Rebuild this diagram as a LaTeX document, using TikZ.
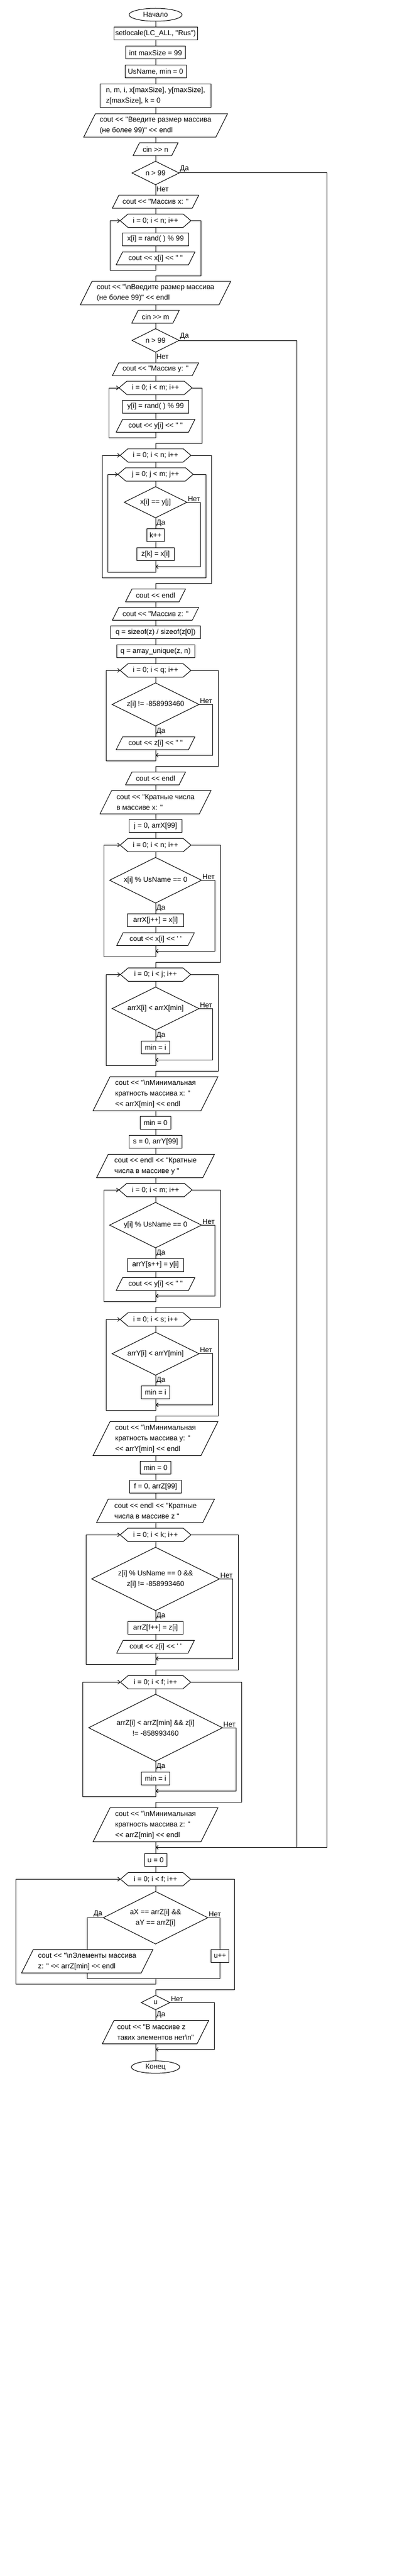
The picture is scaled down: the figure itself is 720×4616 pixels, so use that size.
\documentclass[tikz,border=0pt]{standalone}
\usepackage{fontspec}
\newfontfamily\fcfont{Liberation Sans}
\usetikzlibrary{shapes.geometric,arrows.meta}
\tikzset{
  every node/.style={font=\fcfont\fontsize{12.8}{19}\selectfont},
  ln/.style={line width=1pt},
  >={Straight Barb[length=4pt,width=7pt]},
  box/.style={draw, ln, rectangle, inner sep=2pt, outer sep=0pt, minimum height=23},
  term/.style={draw, ln, ellipse, inner sep=0pt, outer sep=0pt},
  ptext/.style={rectangle, inner sep=0pt, outer sep=0pt, align=left},
  dtext/.style={rectangle, inner sep=0pt, outer sep=0pt, align=center},
  htext/.style={rectangle, inner sep=0pt, outer sep=0pt, minimum height=24},
  lbl/.style={inner sep=1.5pt},
}
% parallelogram: name, cx, cy, width, height, text
\newcommand\para[6]{%
  \node[ptext, minimum width=#4, minimum height=#5] (#1) at (#2,#3) {#6};
  \draw[ln] ([xshift=#5/4]#1.north west) -- ([xshift=#5/4]#1.north east) -- ([xshift=-#5/4]#1.south east) -- ([xshift=-#5/4]#1.south west) -- cycle;}
% decision: name, cx, cy, width, height, text
\newcommand\dec[6]{%
  \node[dtext, minimum width=#4, minimum height=#5] (#1) at (#2,#3) {#6};
  \draw[ln] (#1.north) -- (#1.east) -- (#1.south) -- (#1.west) -- cycle;}
% loop hexagon: name, cy, inner width, point depth, text
\newcommand\hexa[5]{%
  \node[htext, minimum width=#3] (#1) at (279,#2) {#5};
  \draw[ln] (#1.north west) -- (#1.north east) -- ([xshift=#4]#1.east) -- (#1.south east) -- (#1.south west) -- ([xshift=-#4]#1.west) -- cycle;
  \coordinate (#1L) at ([xshift=-#4]#1.west);
  \coordinate (#1R) at ([xshift=#4]#1.east);}
\begin{document}
\begin{tikzpicture}[x=1pt,y=-1pt]
\useasboundingbox (0,0) rectangle (720,4616);

% ---------- nodes ----------
\node[term, minimum width=95, minimum height=23] (start) at (279,26.5) {Начало};
\node[box, minimum width=150] (set) at (279,60.5) {setlocale(LC\_ALL, "Rus")};
\node[box, minimum width=107] (msz) at (279,94.5) {int maxSize = 99};
\node[box, minimum width=110] (usn) at (279,128.5) {UsName, min = 0};
\node[box, minimum width=199, minimum height=42, align=left] (vars) at (279,172) {n, m, i, x[maxSize], y[maxSize],\\z[maxSize], k = 0};
\para{in1}{279}{225}{237}{42}{cout << "Введите размер массива\\(не более 99)" << endl}
\para{cinn}{279}{267.5}{69.2}{23}{cin >> n}
\dec{d1}{279}{310}{84.4}{42}{n > 99}
\para{mx}{279}{361.5}{143.3}{23}{cout << "Массив x: "}
\hexa{h1}{395.5}{99}{14}{i = 0; i < n; i++}
\node[box, minimum width=119.5] (rx) at (279,428.5) {x[i] = rand( ) \% 99};
\para{ox}{279}{463}{129.7}{23}{cout << x[i] << " "}
\para{in2}{279}{525}{248.7}{42}{cout << "\textbackslash nВведите размер массива\\(не более 99)" << endl}
\para{cinm}{279}{567.5}{73.7}{23}{cin >> m}
\dec{d2}{279}{610}{84.4}{42}{n > 99}
\para{my}{279}{661.5}{143.3}{23}{cout << "Массив y: "}
\hexa{h2}{695}{103}{14}{i = 0; i < m; i++}
\node[box, minimum width=119.5] (ry) at (279,728.5) {y[i] = rand( ) \% 99};
\para{oy}{279}{763}{129.7}{23}{cout << y[i] << " "}
\hexa{h3}{816}{99}{14}{i = 0; i < n; i++}
\hexa{h4}{850}{107}{14}{j = 0; j < m; j++}
\dec{d3}{279}{900}{112.6}{55.7}{x[i] == y[j]}
\node[box, minimum width=31.4] (kk) at (279,958.8) {k++};
\node[box, minimum width=67.4] (zk) at (279,992.8) {z[k] = x[i]};
\para{ce1}{279}{1066.8}{96}{23}{cout << endl}
\para{mz}{279}{1099.8}{143.3}{23}{cout << "Массив z: "}
\node[box, minimum width=161.5] (qs) at (279,1132.8) {q = sizeof(z) / sizeof(z[0])};
\node[box, minimum width=140] (qu) at (279,1167) {q = array\_unique(z, n)};
\hexa{h5}{1201.3}{99}{14}{i = 0; i < q; i++}
\dec{d4}{279}{1262.3}{156}{77}{z[i] != -858993460}
\para{oz}{279}{1331.8}{129.7}{23}{cout << z[i] << " "}
\para{ce2}{279}{1394.8}{96}{23}{cout << endl}
\para{kx}{279}{1437.3}{178.2}{42}{cout << "Кратные числа\\в массиве x: "}
\node[box, minimum width=94.6] (jx) at (279,1479.8) {j = 0, arrX[99]};
\hexa{h6}{1514.3}{99}{14}{i = 0; i < n; i++}
\dec{d5}{279}{1577.3}{164.8}{81.7}{x[i] \% UsName == 0}
\node[box, minimum width=100.5] (ax) at (279,1648.8) {arrX[j++] = x[i]};
\para{ox2}{279}{1682.8}{127.8}{23}{cout << x[i] << ' '}
\hexa{h7}{1746.3}{98}{14}{i = 0; i < j; i++}
\dec{d6}{279}{1807.3}{156}{77}{arrX[i] < arrX[min]}
\node[box, minimum width=50.4] (mi1) at (279,1876.8) {min = i};
\para{mnx}{279}{1959.8}{193.5}{61}{cout << "\textbackslash nМинимальная\\кратность массива x: "\\<< arrX[min] << endl}
\node[box, minimum width=54.5] (m01) at (279,2011.8) {min = 0};
\node[box, minimum width=95.5] (sy) at (279,2045.8) {s = 0, arrY[99]};
\para{ky}{279}{2089.3}{190.5}{42}{cout << endl << "Кратные\\числа в массиве y "}
\hexa{h8}{2132.3}{103}{14}{i = 0; i < m; i++}
\dec{d7}{279}{2195.3}{164.8}{81.4}{y[i] \% UsName == 0}
\node[box, minimum width=101.5] (ay) at (279,2266.5) {arrY[s++] = y[i]};
\para{oy2}{279}{2300.8}{129.7}{23}{cout << y[i] << " "}
\hexa{h9}{2364.3}{99}{14}{i = 0; i < s; i++}
\dec{d8}{279}{2425.7}{156}{77}{arrY[i] < arrY[min]}
\node[box, minimum width=50.4] (mi2) at (279,2494.8) {min = i};
\para{mny}{279}{2577.8}{193.5}{61}{cout << "\textbackslash nМинимальная\\кратность массива y: "\\<< arrY[min] << endl}
\node[box, minimum width=54.5] (m02) at (279,2629.8) {min = 0};
\node[box, minimum width=93.7] (fz) at (279,2663.8) {f = 0, arrZ[99]};
\para{kz}{279}{2707.3}{190.5}{42}{cout << endl << "Кратные\\числа в массиве z "}
\hexa{h10}{2750.3}{99}{14}{i = 0; i < k; i++}
\dec{d9}{279}{2829.3}{229.4}{113.4}{z[i] \% UsName == 0 \&\&\\z[i] != -858993460}
\node[box, minimum width=99.7] (az) at (279,2916.8) {arrZ[f++] = z[i]};
\para{oz2}{279}{2950.8}{127.8}{23}{cout << z[i] << ' '}
\hexa{h11}{3014.3}{98}{14}{i = 0; i < f; i++}
\dec{d10}{279}{3096}{240}{120}{arrZ[i] < arrZ[min] \&\& z[i]\\!= -858993460}
\node[box, minimum width=50.4] (mi3) at (279,3187) {min = i};
\para{mnz}{279}{3269.8}{193.5}{61}{cout << "\textbackslash nМинимальная\\кратность массива z: "\\<< arrZ[min] << endl}
\node[box, minimum width=40] (u0) at (279,3332.8) {u = 0};
\hexa{h12}{3367.3}{98}{14}{i = 0; i < f; i++}
\dec{d11}{279}{3436.3}{187.5}{94}{aX == arrZ[i] \&\&\\aY == arrZ[i]}
\para{el}{156.5}{3514.3}{214.6}{42}{cout << "\textbackslash nЭлементы массива\\z: " << arrZ[min] << endl}
\node[box, minimum width=32.3] (upp) at (394.6,3504.8) {u++};
\dec{d12}{279}{3588.3}{51.6}{25.7}{u}
\para{nz}{279}{3641.3}{169.8}{42}{cout << "В массиве z\\таких элементов нет\textbackslash n"}
\node[term, minimum width=86.7, minimum height=22.3] (fin) at (279,3704) {Конец};

% junction coordinates
\coordinate (j4) at (279,1015.3);
\coordinate (j5) at (279,1353.3);
\coordinate (j6) at (279,1704.3);
\coordinate (j7) at (279,1899.3);
\coordinate (j8) at (279,2322.3);
\coordinate (j9) at (279,2517.3);
\coordinate (j10) at (279,2972);
\coordinate (j11) at (279,3209.3);
\coordinate (jD) at (279,3310.3);
\coordinate (j12) at (279,3672.3);

% ---------- straight connectors ----------
\draw[ln] (start.south) -- (set.north);
\draw[ln] (set.south) -- (msz.north);
\draw[ln] (msz.south) -- (usn.north);
\draw[ln] (usn.south) -- (vars.north);
\draw[ln] (vars.south) -- (in1.north);
\draw[ln] (in1.south) -- (cinn.north);
\draw[ln] (cinn.south) -- (d1.north);
\draw[ln] (d1.south) -- (mx.north);
\draw[ln] (mx.south) -- (h1.north);
\draw[ln] (h1.south) -- (rx.north);
\draw[ln] (rx.south) -- (ox.north);
\draw[ln] (in2.south) -- (cinm.north);
\draw[ln] (cinm.south) -- (d2.north);
\draw[ln] (d2.south) -- (my.north);
\draw[ln] (my.south) -- (h2.north);
\draw[ln] (h2.south) -- (ry.north);
\draw[ln] (ry.south) -- (oy.north);
\draw[ln] (h3.south) -- (h4.north);
\draw[ln] (h4.south) -- (d3.north);
\draw[ln] (d3.south) -- (kk.north);
\draw[ln] (kk.south) -- (zk.north);
\draw[ln] (ce1.south) -- (mz.north);
\draw[ln] (mz.south) -- (qs.north);
\draw[ln] (qs.south) -- (qu.north);
\draw[ln] (qu.south) -- (h5.north);
\draw[ln] (h5.south) -- (d4.north);
\draw[ln] (d4.south) -- (oz.north);
\draw[ln] (ce2.south) -- (kx.north);
\draw[ln] (kx.south) -- (jx.north);
\draw[ln] (jx.south) -- (h6.north);
\draw[ln] (h6.south) -- (d5.north);
\draw[ln] (d5.south) -- (ax.north);
\draw[ln] (ax.south) -- (ox2.north);
\draw[ln] (h7.south) -- (d6.north);
\draw[ln] (d6.south) -- (mi1.north);
\draw[ln] (mnx.south) -- (m01.north);
\draw[ln] (m01.south) -- (sy.north);
\draw[ln] (sy.south) -- (ky.north);
\draw[ln] (ky.south) -- (h8.north);
\draw[ln] (h8.south) -- (d7.north);
\draw[ln] (d7.south) -- (ay.north);
\draw[ln] (ay.south) -- (oy2.north);
\draw[ln] (h9.south) -- (d8.north);
\draw[ln] (d8.south) -- (mi2.north);
\draw[ln] (mny.south) -- (m02.north);
\draw[ln] (m02.south) -- (fz.north);
\draw[ln] (fz.south) -- (kz.north);
\draw[ln] (kz.south) -- (h10.north);
\draw[ln] (h10.south) -- (d9.north);
\draw[ln] (d9.south) -- (az.north);
\draw[ln] (az.south) -- (oz2.north);
\draw[ln] (h11.south) -- (d10.north);
\draw[ln] (d10.south) -- (mi3.north);
\draw[ln] (mnz.south) -- (u0.north);
\draw[ln] (u0.south) -- (h12.north);
\draw[ln] (h12.south) -- (d11.north);
\draw[ln] (d12.south) -- (nz.north);
\draw[ln] (nz.south) -- (fin.north);

% ---------- loops ----------
\draw[ln,->] (ox.south) -- (279,484) -| (197.5,395.5) -- (h1L);
\draw[ln] (h1R) -| (360,494) -| (in2.north);
\draw[ln,->] (oy.south) -- (279,784) -| (195.2,695) -- (h2L);
\draw[ln] (h2R) -| (362.3,794) -| (h3.north);
\draw[ln,->] (d3.east) -| (359,1015.3) -- (j4);
\draw[ln,->] (zk.south) -- (279,1025.3) -| (193.4,850) -- (h4L);
\draw[ln] (h4R) -| (369.2,1035.3) -- (279,1035.3);
\draw[ln,->] (279,1035.3) -| (183.2,816) -- (h3L);
\draw[ln] (h3R) -| (379.4,1045.3) -| (ce1.north);
\draw[ln,->] (d4.east) -| (381.2,1353.3) -- (j5);
\draw[ln,->] (oz.south) -- (279,1363.3) -| (190.6,1201.3) -- (h5L);
\draw[ln] (h5R) -| (391.4,1373.3) -| (ce2.north);
\draw[ln,->] (d5.east) -| (385.4,1704.3) -- (j6);
\draw[ln,->] (ox2.south) -- (279,1714.3) -| (186.5,1514.3) -- (h6L);
\draw[ln] (h6R) -| (395.5,1724.3) -| (h7.north);
\draw[ln,->] (d6.east) -| (381.2,1899.3) -- (j7);
\draw[ln,->] (mi1.south) -- (279,1909.3) -| (190.6,1746.3) -- (h7L);
\draw[ln] (h7R) -| (391.4,1919.3) -| (mnx.north);
\draw[ln,->] (d7.east) -| (385.4,2322.3) -- (j8);
\draw[ln,->] (oy2.south) -- (279,2332.3) -| (186.5,2132.3) -- (h8L);
\draw[ln] (h8R) -| (395.5,2342.3) -| (h9.north);
\draw[ln,->] (d8.east) -| (381.2,2517.3) -- (j9);
\draw[ln,->] (mi2.south) -- (279,2527.3) -| (190.6,2364.3) -- (h9L);
\draw[ln] (h9R) -| (391.4,2537.3) -| (mny.north);
\draw[ln,->] (d9.east) -| (417.7,2972) -- (j10);
\draw[ln,->] (oz2.south) -- (279,2982) -| (154.2,2750.3) -- (h10L);
\draw[ln] (h10R) -| (427.8,2992) -| (h11.north);
\draw[ln,->] (d10.east) -| (423.7,3209.3) -- (j11);
\draw[ln,->] (mi3.south) -- (279,3219.3) -| (148.2,3014.3) -- (h11L);
\draw[ln] (h11R) -| (433.8,3229.3) -| (mnz.north);
\draw[ln,->] (d1.east) -| (586.6,3310.3) -- (jD);
\draw[ln] (d2.east) -| (532.1,3310.3);
\draw[ln] (d11.west) -| (el.north);
\draw[ln] (d11.east) -| (upp.north);
\draw[ln] (el.south) |- (394.6,3545.3) -- (upp.south);
\draw[ln,->] (279,3545.3) |- (28.6,3555.3) |- (h12L);
\draw[ln] (h12R) -| (420.5,3565.3) -| (d12.north);
\draw[ln,->] (d12.east) -| (384.5,3672.3) -- (j12);

% ---------- labels ----------
\node[lbl, anchor=south west] (l1a) at (d1.east) {Да};
\node[lbl, anchor=north west, yshift=-2pt] (l1b) at (d1.south) {Нет};
\node[lbl, anchor=south west] (l2a) at (d2.east) {Да};
\node[lbl, anchor=north west, yshift=-2pt] (l2b) at (d2.south) {Нет};
\node[lbl, anchor=south west] (l3a) at (d3.east) {Нет};
\node[lbl, anchor=north west, yshift=-2pt] (l3b) at (d3.south) {Да};
\node[lbl, anchor=south west] (l4a) at (d4.east) {Нет};
\node[lbl, anchor=north west, yshift=-2pt] (l4b) at (d4.south) {Да};
\node[lbl, anchor=south west] (l5a) at (d5.east) {Нет};
\node[lbl, anchor=north west, yshift=-2pt] (l5b) at (d5.south) {Да};
\node[lbl, anchor=south west] (l6a) at (d6.east) {Нет};
\node[lbl, anchor=north west, yshift=-2pt] (l6b) at (d6.south) {Да};
\node[lbl, anchor=south west] (l7a) at (d7.east) {Нет};
\node[lbl, anchor=north west, yshift=-2pt] (l7b) at (d7.south) {Да};
\node[lbl, anchor=south west] (l8a) at (d8.east) {Нет};
\node[lbl, anchor=north west, yshift=-2pt] (l8b) at (d8.south) {Да};
\node[lbl, anchor=south west] (l9a) at (d9.east) {Нет};
\node[lbl, anchor=north west, yshift=-2pt] (l9b) at (d9.south) {Да};
\node[lbl, anchor=south west] (l10a) at (d10.east) {Нет};
\node[lbl, anchor=north west, yshift=-2pt] (l10b) at (d10.south) {Да};
\node[lbl, anchor=south east] (l11a) at (d11.west) {Да};
\node[lbl, anchor=south west] (l11b) at (d11.east) {Нет};
\node[lbl, anchor=south west] (l12a) at (d12.east) {Нет};
\node[lbl, anchor=north west, yshift=-2pt] (l12b) at (d12.south) {Да};
\end{tikzpicture}
\end{document}
